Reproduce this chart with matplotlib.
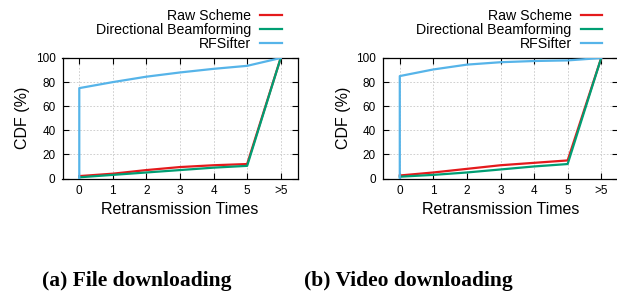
import matplotlib.pyplot as plt
from matplotlib.ticker import FixedLocator

plt.rcParams['font.family'] = ['Liberation Sans', 'DejaVu Sans']

x_labels = ['0', '1', '2', '3', '4', '5', '>5']
x_pos = list(range(len(x_labels)))

# (a) File downloading
file_raw = [2, 4, 7, 9.5, 11, 12, 100]
file_dir = [1, 3, 5, 7, 9, 10.5, 100]
file_rfs = [75, 80, 84.5, 88, 91, 93.5, 100]

# (b) Video downloading
video_raw = [2.5, 5, 8, 11, 13, 15, 100]
video_dir = [1.5, 3, 5, 7.5, 10, 12, 100]
video_rfs = [85, 90.5, 94.5, 96.5, 97.5, 98, 100]

red = '#e41a1c'
green = '#009e73'
blue = '#56b4e9'

W, H = 617, 292
fig = plt.figure(figsize=(W / 100, H / 100), dpi=100)


def panel(left, raw, dirb, rfs, caption, cap_x):
    ax = fig.add_axes([left / W, (H - 178.5) / H, 235 / W, 120.5 / H])
    ax.plot(x_pos, raw, color=red, lw=1.6, label='Raw Scheme', zorder=3)
    ax.plot(x_pos, dirb, color=green, lw=1.6, label='Directional Beamforming', zorder=3)
    ax.plot([0] + x_pos, [0] + rfs, color=blue, lw=1.6, label='RFSifter', zorder=3)
    ax.set_xlim(-0.5, 6.5)
    ax.set_ylim(0, 100)
    ax.xaxis.set_major_locator(FixedLocator(x_pos))
    ax.set_xticklabels(x_labels)
    ax.set_yticks([0, 20, 40, 60, 80, 100])
    ax.tick_params(direction='in', top=True, right=True, length=4, labelsize=8.5, pad=5)
    ax.grid(True, color='#c8c8c8', linestyle=(0, (2, 2)), lw=0.6)
    for s in ax.spines.values():
        s.set_linewidth(0.9)
    ax.set_xlabel('Retransmission Times', fontsize=11.5, labelpad=3)
    ax.set_ylabel('CDF (%)', fontsize=11.5, labelpad=4)
    ax.legend(loc='lower right', bbox_to_anchor=(0.932, 1.06), frameon=False,
              markerfirst=False, fontsize=10.2, handlelength=1.5, handletextpad=0.65,
              labelspacing=0.0, borderpad=0, borderaxespad=0)
    fig.text(cap_x / W, 1 - 281 / H, caption, ha='center', va='center',
             fontsize=15.5, fontweight='bold', family='Liberation Serif')
    return ax


panel(62.5, file_raw, file_dir, file_rfs, '(a) File downloading', 137)
panel(383, video_raw, video_dir, video_rfs, '(b) Video downloading', 408)

fig.savefig('out.png', dpi=100)
